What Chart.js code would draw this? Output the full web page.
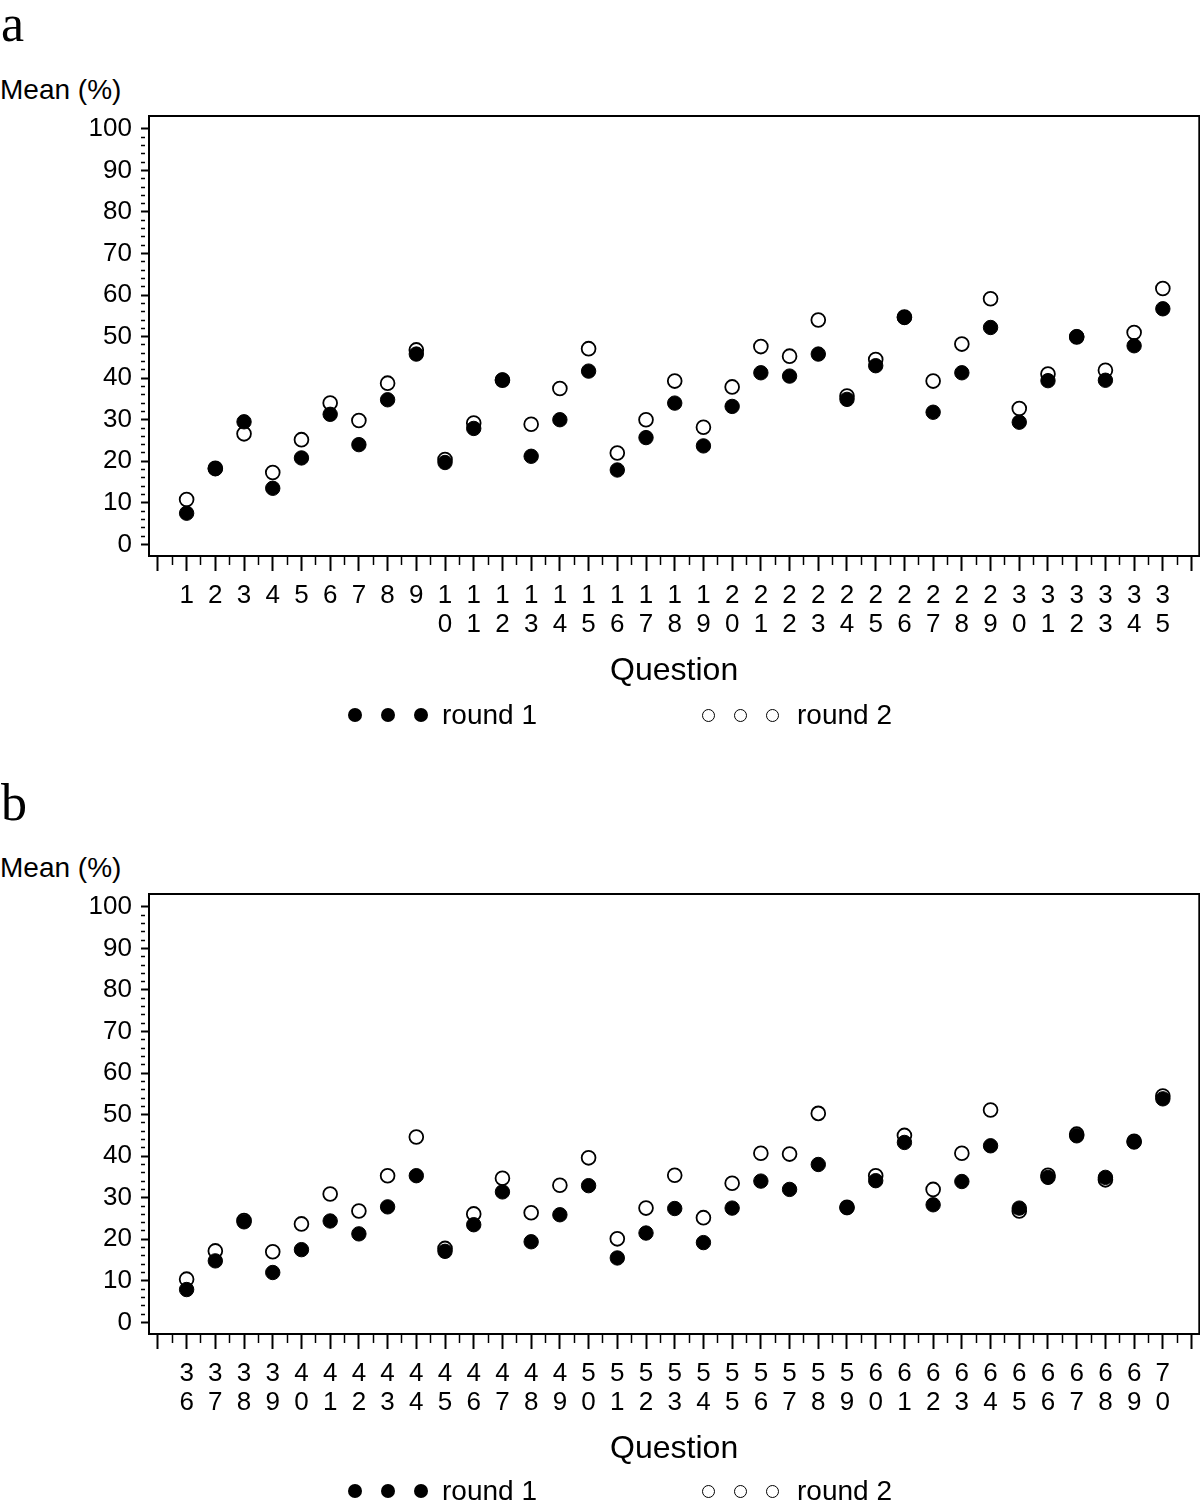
<!DOCTYPE html>
<html><head><meta charset="utf-8">
<script src="https://cdn.jsdelivr.net/npm/chart.js@4.4.1/dist/chart.umd.min.js"></script>
<style>
html,body{margin:0;padding:0;background:#fff;width:1200px;height:1507px;overflow:hidden;position:relative;font-family:'Liberation Sans',Arial,sans-serif;color:#000}
.abs{position:absolute;white-space:nowrap;line-height:1}
.panel{font-family:'Liberation Serif','Times New Roman',serif;font-size:52px}
.ylab{font-size:28px}
.leg{font-size:28px}
.dot{position:absolute;border-radius:50%;box-sizing:border-box}
.f{width:14px;height:14px;background:#000}
.o{width:13px;height:13px;border:1.6px solid #000;background:#fff}
canvas{position:absolute;left:0}
</style></head><body>
<div class="abs panel" style="left:1px;top:-2px">a</div>
<div class="abs ylab" style="left:0px;top:76px">Mean (%)</div>
<canvas id="chartA" width="1208" height="600" style="top:100px"></canvas>
<div class="dot f" style="left:348px;top:708px"></div>
<div class="dot f" style="left:381px;top:708px"></div>
<div class="dot f" style="left:414px;top:708px"></div>
<div class="abs leg" style="left:442px;top:701px">round 1</div>
<div class="dot o" style="left:702px;top:709px"></div>
<div class="dot o" style="left:734px;top:709px"></div>
<div class="dot o" style="left:766px;top:709px"></div>
<div class="abs leg" style="left:797px;top:701px">round 2</div>

<div class="abs panel" style="left:1px;top:777px">b</div>
<div class="abs ylab" style="left:0px;top:854px">Mean (%)</div>
<canvas id="chartB" width="1208" height="600" style="top:878px"></canvas>
<div class="dot f" style="left:348px;top:1484px"></div>
<div class="dot f" style="left:381px;top:1484px"></div>
<div class="dot f" style="left:414px;top:1484px"></div>
<div class="abs leg" style="left:442px;top:1477px">round 1</div>
<div class="dot o" style="left:702px;top:1485px"></div>
<div class="dot o" style="left:734px;top:1485px"></div>
<div class="dot o" style="left:766px;top:1485px"></div>
<div class="abs leg" style="left:797px;top:1477px">round 2</div>

<script>
const questionsA = [1,2,3,4,5,6,7,8,9,10,11,12,13,14,15,16,17,18,19,20,21,22,23,24,25,26,27,28,29,30,31,32,33,34,35];
const questionsB = [36,37,38,39,40,41,42,43,44,45,46,47,48,49,50,51,52,53,54,55,56,57,58,59,60,61,62,63,64,65,66,67,68,69,70];

const round1A = [7.5,18.2,29.5,13.5,20.8,31.3,24.0,34.8,45.8,19.7,27.9,39.6,21.2,30.0,41.7,17.9,25.7,34.0,23.7,33.2,41.3,40.5,45.8,34.9,43.0,54.6,31.8,41.3,52.2,29.4,39.4,50.0,39.5,47.8,56.7];
const round2A = [10.8,18.3,26.6,17.3,25.2,34.0,29.8,38.8,46.8,20.4,29.2,39.5,28.9,37.5,47.1,22.0,30.0,39.3,28.2,37.9,47.6,45.3,54.0,35.7,44.5,54.7,39.3,48.2,59.1,32.7,41.0,49.9,41.9,51.0,61.6];

const round1B = [7.9,14.8,24.2,12.0,17.5,24.4,21.3,27.8,35.3,17.1,23.5,31.4,19.4,25.9,32.9,15.5,21.5,27.4,19.2,27.5,34.0,32.0,38.0,27.6,34.1,43.3,28.3,33.9,42.5,27.5,34.9,44.9,34.9,43.4,53.8];
const round2B = [10.4,17.2,24.5,17.0,23.7,30.9,26.8,35.3,44.6,17.8,26.1,34.7,26.4,33.0,39.6,20.1,27.5,35.4,25.2,33.5,40.7,40.5,50.3,27.7,35.3,45.0,32.0,40.7,51.1,26.8,35.4,45.3,34.3,43.6,54.5];

const yTickValues = [];
for (let v = 0; v <= 100; v += 2) yTickValues.push(v);
const xTickValues = [];
for (let v = 0; v <= 36; v += 0.5) xTickValues.push(v);

const FAMILY = "'Liberation Sans', Arial, sans-serif";
const isInt = v => Math.abs(v - Math.round(v)) < 1e-9;

const framePlugin = {
  id: 'frame',
  afterDraw(chart) {
    const {ctx, chartArea: a} = chart;
    ctx.save();
    ctx.strokeStyle = '#000';
    ctx.lineWidth = 2;
    ctx.strokeRect(a.left, a.top, a.right - a.left, a.bottom - a.top);
    ctx.restore();
  }
};

function makeChart(id, cats, r1, r2) {
  const pts = arr => arr.map((v, i) => ({x: i + 1, y: v}));
  return new Chart(document.getElementById(id), {
    type: 'scatter',
    data: {
      datasets: [
        {label: 'round 1', data: pts(r1), pointRadius: 7.2, pointHoverRadius: 7.2, pointBorderWidth: 1,
         pointBackgroundColor: '#000', pointBorderColor: '#000'},
        {label: 'round 2', data: pts(r2), pointRadius: 6.9, pointHoverRadius: 6.9, pointBorderWidth: 1.8,
         pointBackgroundColor: '#fff', pointBorderColor: '#000'}
      ]
    },
    options: {
      responsive: false,
      devicePixelRatio: 1,
      animation: false,
      events: [],
      layout: {padding: {top: 16, right: 1, bottom: 0, left: 0}},
      plugins: {legend: {display: false}, tooltip: {enabled: false}},
      scales: {
        x: {
          type: 'linear', min: -0.31, max: 36.27, bounds: 'data',
          afterBuildTicks: s => { s.ticks = xTickValues.map(v => ({value: v})); },
          afterFit: s => { s.height = 144; s.paddingLeft = 0; s.paddingRight = 0; s.paddingTop = 0; s.paddingBottom = 0; },
          ticks: {
            autoSkip: false, maxRotation: 0, minRotation: 0, padding: 11, color: '#000',
            font: {family: FAMILY, size: 26, lineHeight: 1.09},
            callback: v => {
              if (!isInt(v)) return '';
              const n = Math.round(v);
              if (n < 1 || n > cats.length) return '';
              const s = String(cats[n - 1]);
              return s.length > 1 ? s.split('') : s;
            }
          },
          grid: {
            display: true, drawOnChartArea: false, drawTicks: true, tickLength: 15, tickColor: '#000',
            tickWidth: c => isInt(c.tick.value) ? 2 : 1.5,
            tickBorderDash: c => isInt(c.tick.value) ? [] : [8, 100]
          },
          border: {display: true, color: '#000', width: 2},
          title: {display: true, text: 'Question', color: '#000',
                  font: {family: FAMILY, size: 32}, padding: {top: 0, bottom: 10}}
        },
        y: {
          type: 'linear', min: -2.8, max: 103.1, bounds: 'data',
          afterBuildTicks: s => { s.ticks = yTickValues.map(v => ({value: v})); },
          afterFit: s => { s.width = 149; s.paddingLeft = 0; s.paddingRight = 0; s.paddingTop = 0; s.paddingBottom = 0; },
          ticks: {
            autoSkip: false, padding: 9, color: '#000',
            font: {family: FAMILY, size: 26},
            callback: v => (Math.round(v) % 10 === 0) ? String(Math.round(v)) : ''
          },
          grid: {
            display: true, drawOnChartArea: false, drawTicks: true, tickLength: 8, tickColor: '#000',
            tickWidth: c => (c.tick.value % 10 === 0) ? 2 : 1.5,
            tickBorderDash: c => (c.tick.value % 10 === 0) ? [] : [4, 100]
          },
          border: {display: true, color: '#000', width: 2}
        }
      }
    },
    plugins: [framePlugin]
  });
}

makeChart('chartA', questionsA, round1A, round2A);
makeChart('chartB', questionsB, round1B, round2B);
</script>
</body></html>
